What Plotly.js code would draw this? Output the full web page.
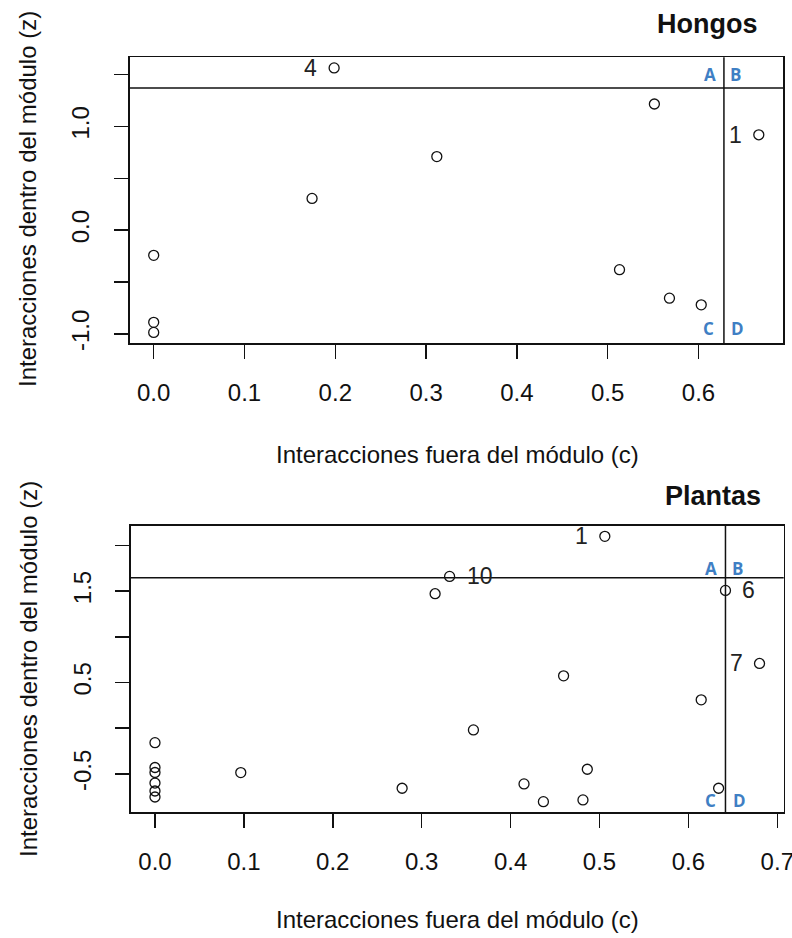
<!DOCTYPE html>
<html>
<head>
<meta charset="utf-8">
<script src="https://cdn.plot.ly/plotly-3.0.1.min.js"></script>
<style>
  html, body { margin: 0; padding: 0; background: #fff; }
  #chart { width: 792px; height: 938px; }
</style>
</head>
<body>
<div id="chart"></div>
<script>
// Fungi: among-module connectivity (c) and within-module degree (z)
const hongosC = [0.1987, 0.5514, 0.6664, 0.3118, 0.1744, 0, 0.513, 0.568, 0.603, 0, 0];
const hongosZ = [1.565, 1.217, 0.920, 0.710, 0.307, -0.242, -0.380, -0.655, -0.719, -0.888, -0.985];
const hongosLabels = ['4', '', '1', '', '', '', '', '', '', '', ''];
const hongosLabelSide = ['left', '', 'left', '', '', '', '', '', '', '', ''];
const hongosThresholdC = 0.628;
const hongosThresholdZ = 1.372;

// Plants
const plantasC = [0.506, 0.3314, 0.3151, 0.6417, 0.680, 0.4596, 0.6144, 0.3582, 0, 0.4863, 0.0965,
                  0, 0, 0, 0, 0, 0.278, 0.4151, 0.4369, 0.4814, 0.634];
const plantasZ = [2.099, 1.660, 1.471, 1.507, 0.708, 0.573, 0.310, -0.019, -0.158, -0.449, -0.486,
                  -0.430, -0.485, -0.600, -0.687, -0.753, -0.657, -0.610, -0.804, -0.785, -0.657];
const plantasLabels = ['1', '10', '', '6', '7', '', '', '', '', '', '', '', '', '', '', '', '', '', '', '', ''];
const plantasLabelSide = ['left', 'right', '', 'right', 'left', '', '', '', '', '', '', '', '', '', '', '', '', '', '', '', ''];
const plantasThresholdC = 0.6417;
const plantasThresholdZ = 1.646;

// Tick values and labels
const hongosXTicks = [0, 0.1, 0.2, 0.3, 0.4, 0.5, 0.6];
const hongosXTickText = ['0.0', '0.1', '0.2', '0.3', '0.4', '0.5', '0.6'];
const hongosYTicks = [-1.0, -0.5, 0.0, 0.5, 1.0, 1.5];
const hongosYTickText = ['-1.0', '', '0.0', '', '1.0', ''];
const plantasXTicks = [0, 0.1, 0.2, 0.3, 0.4, 0.5, 0.6, 0.7];
const plantasXTickText = ['0.0', '0.1', '0.2', '0.3', '0.4', '0.5', '0.6', '0.7'];
const plantasYTicks = [-0.5, 0.0, 0.5, 1.0, 1.5, 2.0];
const plantasYTickText = ['-0.5', '', '0.5', '', '1.5', ''];

const quadrantLetters = ['A', 'B', 'C', 'D'];
const xTitle = 'Interacciones fuera del módulo (c)';
const yTitle = 'Interacciones dentro del módulo (z)';

const W = 792, H = 938;
const FONT = 'Liberation Sans, Arial, Helvetica, sans-serif';
const BLUE = '#3f7fc4';

// R-style padded range: 4% of the data span on each side
function paddedRange(v) {
  const lo = Math.min(...v), hi = Math.max(...v), d = hi - lo;
  return [lo - 0.04 * d, hi + 0.04 * d];
}

function xAxis(domainPx, anchor, ticks, text, values) {
  return {
    domain: [domainPx[0] / W, domainPx[1] / W], anchor: anchor,
    range: paddedRange(values),
    tickmode: 'array', tickvals: ticks, ticktext: text,
    ticks: 'outside', ticklen: 14, tickwidth: 1.5, tickcolor: '#111',
    ticklabelstandoff: 13, ticklabeloverflow: 'allow',
    showline: true, mirror: true, linecolor: '#111', linewidth: 1.7,
    showgrid: false, zeroline: false,
    tickfont: { family: FONT, size: 24, color: '#111' }
  };
}

function yAxis(domainPx, anchor, ticks, text, values) {
  return {
    domain: [1 - domainPx[1] / H, 1 - domainPx[0] / H], anchor: anchor,
    range: paddedRange(values),
    tickmode: 'array', tickvals: ticks, ticktext: text, tickangle: -90,
    ticks: 'outside', ticklen: 14, tickwidth: 1.5, tickcolor: '#111',
    ticklabelstandoff: 15, ticklabeloverflow: 'allow',
    showline: true, mirror: true, linecolor: '#111', linewidth: 1.7,
    showgrid: false, zeroline: false,
    tickfont: { family: FONT, size: 24, color: '#111' }
  };
}

function pointsTrace(xs, zs, xa, ya) {
  return {
    type: 'scatter', mode: 'markers', x: xs, y: zs, xaxis: xa, yaxis: ya,
    marker: { symbol: 'circle-open', size: 10, color: '#111', line: { width: 1.3, color: '#111' } },
    hoverinfo: 'x+y', cliponaxis: false
  };
}

function pointLabels(xs, zs, labels, sides, xr, yr) {
  const out = [];
  labels.forEach((t, i) => {
    if (!t) return;
    const left = sides[i] === 'left';
    out.push({
      xref: xr, yref: yr, x: xs[i], y: zs[i], text: t, showarrow: false,
      xanchor: left ? 'right' : 'left', xshift: left ? -15 : 15, yanchor: 'middle',
      font: { family: FONT, size: 23, color: '#222' }
    });
  });
  return out;
}

function quadrantNotes(xr, yr, cThr, zThr, abShift, cdShift) {
  const f = { family: 'Open Sans, Noto Sans, sans-serif', size: 17, color: BLUE, weight: 'bold' };
  const dom = yr + ' domain';
  const base = { showarrow: false, xanchor: 'center', yanchor: 'middle', font: f };
  return [
    Object.assign({ xref: xr, yref: yr, x: cThr, y: zThr, text: '<b>' + quadrantLetters[0] + '</b>', xshift: -14, yshift: abShift }, base),
    Object.assign({ xref: xr, yref: yr, x: cThr, y: zThr, text: '<b>' + quadrantLetters[1] + '</b>', xshift: 12, yshift: abShift }, base),
    Object.assign({ xref: xr, yref: dom, x: cThr, y: 0, text: '<b>' + quadrantLetters[2] + '</b>', xshift: -15, yshift: cdShift }, base),
    Object.assign({ xref: xr, yref: dom, x: cThr, y: 0, text: '<b>' + quadrantLetters[3] + '</b>', xshift: 14, yshift: cdShift }, base)
  ];
}

function thresholdLines(xr, yr, cThr, zThr) {
  const ln = { color: '#111', width: 1.5 };
  return [
    { type: 'line', xref: xr + ' domain', yref: yr, x0: 0, x1: 1, y0: zThr, y1: zThr, line: ln },
    { type: 'line', xref: xr, yref: yr + ' domain', x0: cThr, x1: cThr, y0: 0, y1: 1, line: ln }
  ];
}

function pxText(text, x, y, size, opts) {
  return Object.assign({
    xref: 'paper', yref: 'paper', x: x / W, y: 1 - y / H, text: text, showarrow: false,
    xanchor: 'center', yanchor: 'middle',
    font: { family: FONT, size: size, color: '#111' }
  }, opts || {});
}

const data = [
  pointsTrace(hongosC, hongosZ, 'x', 'y'),
  pointsTrace(plantasC, plantasZ, 'x2', 'y2')
];

const annotations = [].concat(
  pointLabels(hongosC, hongosZ, hongosLabels, hongosLabelSide, 'x', 'y'),
  pointLabels(plantasC, plantasZ, plantasLabels, plantasLabelSide, 'x2', 'y2'),
  quadrantNotes('x', 'y', hongosThresholdC, hongosThresholdZ, 13, 15),
  quadrantNotes('x2', 'y2', plantasThresholdC, plantasThresholdZ, 9, 12),
  [
    pxText('<b>Hongos</b>', 707.5, 24, 27),
    pxText('<b>Plantas</b>', 713, 496, 27),
    pxText(xTitle, 457, 455, 24),
    pxText(xTitle, 457, 919, 24),
    pxText(yTitle, 28, 199, 24, { textangle: -90 }),
    pxText(yTitle, 28, 669, 24, { textangle: -90 })
  ]
);

const layout = {
  width: W, height: H,
  margin: { l: 0, r: 0, t: 0, b: 0 },
  paper_bgcolor: '#fff', plot_bgcolor: '#fff',
  showlegend: false,
  xaxis: xAxis([129.5, 783], 'y', hongosXTicks, hongosXTickText, hongosC),
  yaxis: yAxis([57.3, 343], 'x', hongosYTicks, hongosYTickText, hongosZ),
  xaxis2: xAxis([130.8, 783.7], 'y2', plantasXTicks, plantasXTickText, plantasC),
  yaxis2: yAxis([525.7, 812.3], 'x2', plantasYTicks, plantasYTickText, plantasZ),
  shapes: [].concat(
    thresholdLines('x', 'y', hongosThresholdC, hongosThresholdZ),
    thresholdLines('x2', 'y2', plantasThresholdC, plantasThresholdZ)
  ),
  annotations: annotations
};

Plotly.newPlot('chart', data, layout, { staticPlot: true, displayModeBar: false });
</script>
</body>
</html>
